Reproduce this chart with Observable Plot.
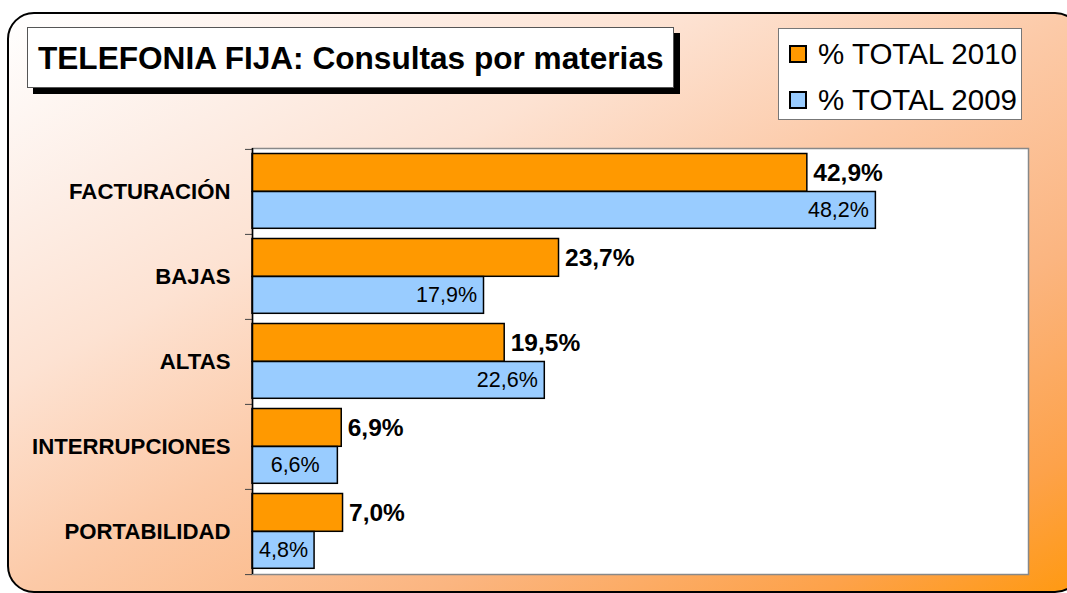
<!DOCTYPE html>
<html>
<head>
<meta charset="utf-8">
<script src="https://cdn.jsdelivr.net/npm/d3@7"></script>
<script src="https://cdn.jsdelivr.net/npm/@observablehq/plot@0.6"></script>
<style>
  html, body { margin: 0; padding: 0; background: #ffffff; }
  #wrap { position: relative; width: 1067px; height: 593px; overflow: hidden; font-family: "Liberation Sans", Arial, sans-serif; }
  #bg { position: absolute; left: 7px; top: 12px; width: 1075px; height: 581px; box-sizing: border-box;
        border: 2px solid #000; border-radius: 27px;
        background: linear-gradient(to bottom right, #ffffff 0%, #fdeee6 18%, #fde2d2 32%, #fccaa8 50%, #fbb580 70%, #fda24a 88%, #ff9910 100%); }
  #title { position: absolute; left: 27px; top: 27px; width: 647px; height: 61px; box-sizing: border-box;
           background: #fff; border: 1px solid #555; box-shadow: 6px 6px 0 #000;
           display: flex; align-items: center; padding-left: 10px; padding-top: 1px;
           font-weight: bold; font-size: 31.6px; color: #000; white-space: nowrap; }
  #legend { position: absolute; left: 778px; top: 28px; width: 244px; height: 92px; box-sizing: border-box;
            background: #fff; border: 1px solid #777; }
  .item { position: absolute; left: 10px; height: 19px; display: flex; align-items: center; white-space: nowrap; }
  .sw { width: 18px; height: 18px; box-sizing: border-box; border: 2px solid #000; margin-right: 11px; }
  .lab { font-size: 29.5px; color: #000; line-height: 19px; }
  #chart { position: absolute; left: 0; top: 0; }
</style>
</head>
<body>
<div id="wrap">
  <div id="bg"></div>
  <div id="title"></div>
  <div id="legend"></div>
  <div id="chart"></div>
</div>
<script>
const titleText = "TELEFONIA FIJA: Consultas por materias";
const categories = ["FACTURACIÓN", "BAJAS", "ALTAS", "INTERRUPCIONES", "PORTABILIDAD"];
const seriesNames = ["% TOTAL 2010", "% TOTAL 2009"];
const seriesColors = ["#ff9900", "#99ccff"];
const values2010 = [42.9, 23.7, 19.5, 6.9, 7.0];
const values2009 = [48.2, 17.9, 22.6, 6.6, 4.8];
const xDomain = [0, 60];

document.getElementById("title").textContent = titleText;

const legend = document.getElementById("legend");
seriesNames.forEach((name, i) => {
  const it = document.createElement("div");
  it.className = "item";
  it.style.top = (15 + i * 46) + "px";
  const sw = document.createElement("div");
  sw.className = "sw";
  sw.style.background = seriesColors[i];
  const lab = document.createElement("span");
  lab.className = "lab";
  lab.textContent = name;
  it.appendChild(sw); it.appendChild(lab);
  legend.appendChild(it);
});

const fmt = v => v.toFixed(1).replace(".", ",") + "%";
const d2010 = categories.map((c, i) => ({cat: c, value: values2010[i]}));
const d2009 = categories.map((c, i) => ({cat: c, value: values2009[i]}));

const W = 1067, H = 593;
const mTop = 148, mBottom = 19, mLeft = 252, mRight = 39;
const bw = (H - mTop - mBottom) / categories.length;
const font = "Liberation Sans, Arial, sans-serif";

const plot = Plot.plot({
  width: W,
  height: H,
  marginTop: mTop,
  marginBottom: mBottom,
  marginLeft: mLeft,
  marginRight: mRight,
  style: {background: "transparent", fontFamily: font, overflow: "visible"},
  x: {domain: xDomain, axis: null},
  y: {domain: categories, padding: 0, axis: null},
  marks: [
    Plot.frame({fill: "white", stroke: "#888", strokeWidth: 1.5}),
    Plot.barX(d2010, {x: "value", y: "cat", fill: seriesColors[0], stroke: "#000", strokeWidth: 1.5,
      insetTop: 4.5, insetBottom: bw - 42.5}),
    Plot.barX(d2009, {x: "value", y: "cat", fill: seriesColors[1], stroke: "#000", strokeWidth: 1.5,
      insetTop: 42.5, insetBottom: bw - 79.5}),
    Plot.text(d2010, {x: "value", y: "cat", text: d => fmt(d.value), dx: 6, dy: 23.5 - bw / 2,
      textAnchor: "start", fontSize: 24.5, fontWeight: "bold", fill: "#000"}),
    Plot.text(d2009.filter(d => d.value >= 10), {x: "value", y: "cat", text: d => fmt(d.value), dx: -7, dy: 61 - bw / 2,
      textAnchor: "end", fontSize: 21.5, fill: "#000"}),
    Plot.text(d2009.filter(d => d.value < 10), {x: d => d.value / 2, y: "cat", text: d => fmt(d.value), dy: 61 - bw / 2,
      textAnchor: "middle", fontSize: 21.5, fill: "#000"}),
    Plot.text(categories, {x: () => 0, y: d => d, dx: -22, textAnchor: "end", fontSize: 22.2, fontWeight: "bold", fill: "#000"}),
    Plot.axisY(categories, {anchor: "left", tickSize: 7, tickFormat: () => "", label: null, stroke: "#444", dy: -bw / 2}),
    Plot.axisY(categories.slice(-1), {anchor: "left", tickSize: 7, tickFormat: () => "", label: null, stroke: "#444", dy: bw / 2}),
    Plot.ruleX([0], {stroke: "#000", strokeWidth: 1.5})
  ]
});
document.getElementById("chart").appendChild(plot);
</script>
</body>
</html>
